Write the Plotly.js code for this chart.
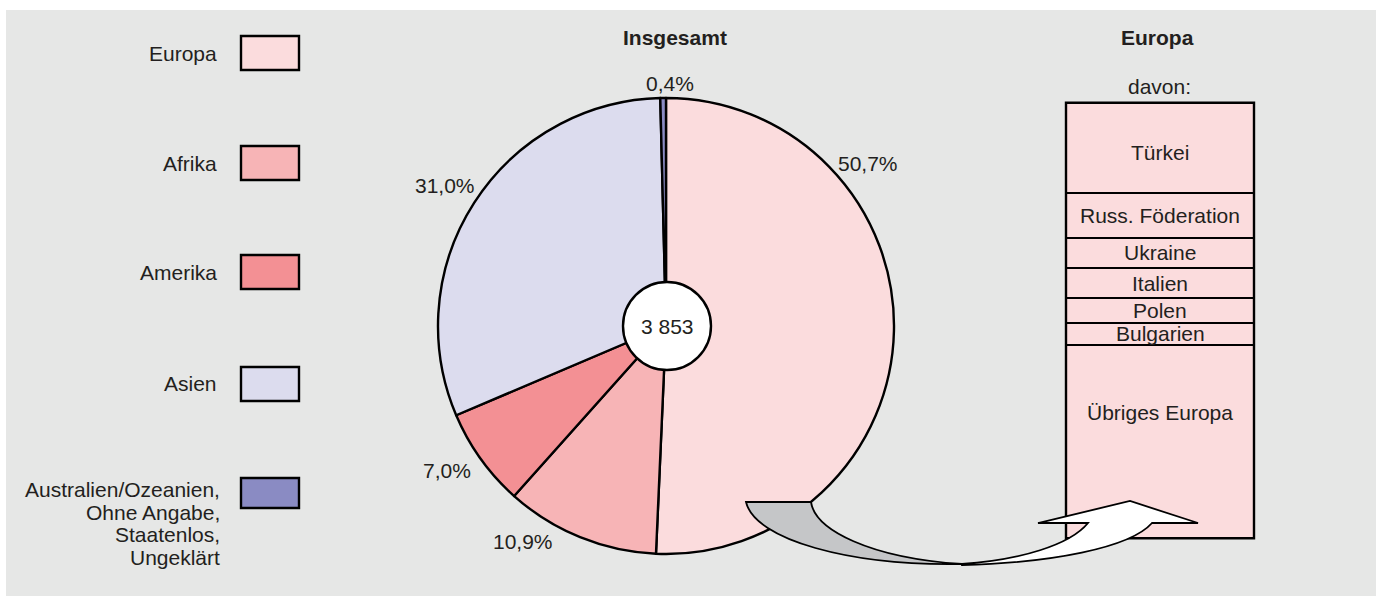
<!DOCTYPE html>
<html>
<head>
<meta charset="utf-8">
<script src="https://cdn.plot.ly/plotly-3.0.1.min.js"></script>
<style>
  html, body { margin: 0; padding: 0; background: #ffffff; }
  #chart { width: 1376px; height: 596px; }
</style>
</head>
<body>
<div id="chart"></div>
<script>
// ---------- DATA ----------
const regions = ['Europa', 'Afrika', 'Amerika', 'Asien', 'Australien/Ozeanien, Ohne Angabe, Staatenlos, Ungeklärt'];
const regionShares = [50.7, 10.9, 7.0, 31.0, 0.4];
const legendLabels = [
  ['Europa'],
  ['Afrika'],
  ['Amerika'],
  ['Asien'],
  ['Australien/Ozeanien,', 'Ohne Angabe,', 'Staatenlos,', 'Ungeklärt']
];
const totalCount = 3853;
const europeCountries = ['Türkei', 'Russ. Föderation', 'Ukraine', 'Italien', 'Polen', 'Bulgarien', 'Übriges Europa'];
const europeShares = [20.8, 10.2, 6.9, 7.0, 5.6, 5.1, 44.4];
const pieTitle = 'Insgesamt';
const barTitle = 'Europa';
const barSubtitle = 'davon:';

// ---------- STYLE ----------
const W = 1376, H = 596;
const FONT = 'Liberation Sans, Arial, Helvetica, sans-serif';
const TXT = '#231f20';
const FS = 21;
const regionColors = ['#fbdcdd', '#f7b4b6', '#f39094', '#dcdcee', '#8a8bc3'];
const barColor = '#fbdcdd';
const bgGray = '#e6e7e6';

const X = x => x / W;
const Y = y => 1 - y / H;
const fmtPct = v => v.toFixed(1).replace('.', ',') + '%';
const fmtInt = n => String(n).replace(/\B(?=(\d{3})+(?!\d))/g, ' ');

// pie geometry (pixels)
const pieCx = 666, pieCy = 326, pieR = 228;
// bar panel geometry (pixels)
const barBox = { l: 1066, r: 1254, t: 102.7, b: 538.3 };

const traces = [];

traces.push({
  type: 'pie',
  values: regionShares,
  labels: regions,
  sort: false,
  direction: 'clockwise',
  rotation: 0,
  textinfo: 'none',
  hoverinfo: 'label+percent',
  showlegend: false,
  marker: { colors: regionColors, line: { color: '#000000', width: 2.4 } },
  domain: { x: [X(pieCx - pieR), X(pieCx + pieR)], y: [Y(pieCy + pieR), Y(pieCy - pieR)] }
});

europeCountries.forEach((c, i) => {
  traces.push({
    type: 'bar',
    x: ['Europa'],
    y: [europeShares[i]],
    width: [1],
    name: c,
    xaxis: 'x',
    yaxis: 'y',
    cliponaxis: false,
    showlegend: false,
    hoverinfo: 'name',
    marker: { color: barColor, line: { color: '#000000', width: 2 } }
  });
});

const annotations = [];
const shapes = [];

// gray background panel
shapes.push({
  type: 'rect', xref: 'paper', yref: 'paper', layer: 'below',
  x0: X(6), x1: 1, y0: 0, y1: Y(10),
  fillcolor: bgGray, line: { width: 0 }
});

// outline around the whole stacked bar (same box as the bar axes domain)
shapes.push({
  type: 'rect', xref: 'paper', yref: 'paper', layer: 'above',
  x0: X(barBox.l), x1: X(barBox.r), y0: Y(barBox.b), y1: Y(barBox.t),
  fillcolor: 'rgba(0,0,0,0)', line: { color: '#000000', width: 2.4 }
});

// titles
annotations.push({ xref: 'paper', yref: 'paper', x: X(675), y: Y(38), text: '<b>' + pieTitle + '</b>', showarrow: false, xanchor: 'center', yanchor: 'middle', font: { family: FONT, size: FS, color: TXT } });
annotations.push({ xref: 'paper', yref: 'paper', x: X(1157), y: Y(38), text: '<b>' + barTitle + '</b>', showarrow: false, xanchor: 'center', yanchor: 'middle', font: { family: FONT, size: FS, color: TXT } });
annotations.push({ xref: 'paper', yref: 'paper', x: X(1159), y: Y(87), text: barSubtitle, showarrow: false, xanchor: 'center', yanchor: 'middle', font: { family: FONT, size: FS, color: TXT } });

// legend
const legendBoxY = [[36, 70], [146, 180], [255, 289], [367, 401], [478, 508]];
const legendTextY = [[53], [163], [272], [383], [489, 512, 534, 557]];
const legendTextX = [219, 219, 219, 219, 222];
legendLabels.forEach((lines, i) => {
  shapes.push({
    type: 'rect', xref: 'paper', yref: 'paper', layer: 'above',
    x0: X(241), x1: X(299), y0: Y(legendBoxY[i][1]), y1: Y(legendBoxY[i][0]),
    fillcolor: regionColors[i], line: { color: '#000000', width: 2.4 }
  });
  lines.forEach((t, j) => {
    annotations.push({ xref: 'paper', yref: 'paper', x: X(legendTextX[i]), y: Y(legendTextY[i][j]), text: t, showarrow: false, xanchor: 'right', yanchor: 'middle', font: { family: FONT, size: FS, color: TXT } });
  });
});

// pie percentage labels
const pctPos = [[868, 163], [523, 541], [447, 470], [445, 185], [670, 83]];
regionShares.forEach((v, i) => {
  annotations.push({ xref: 'paper', yref: 'paper', x: X(pctPos[i][0]), y: Y(pctPos[i][1]), text: fmtPct(v), showarrow: false, xanchor: 'center', yanchor: 'middle', font: { family: FONT, size: FS, color: TXT } });
});

// centre circle with total
const cc = { x: 667, y: 326, r: 44 };
shapes.push({
  type: 'circle', xref: 'paper', yref: 'paper', layer: 'above',
  x0: X(cc.x - cc.r), x1: X(cc.x + cc.r), y0: Y(cc.y + cc.r), y1: Y(cc.y - cc.r),
  fillcolor: '#ffffff', line: { color: '#000000', width: 2.4 }
});
annotations.push({ xref: 'paper', yref: 'paper', x: X(cc.x), y: Y(cc.y), text: fmtInt(totalCount), showarrow: false, xanchor: 'center', yanchor: 'middle', font: { family: FONT, size: FS, color: TXT } });

// stacked bar labels
let cum = 0;
const labelShift = [-4, 0, 0, 0, 0, 0, 29];
europeCountries.forEach((c, i) => {
  const mid = cum + europeShares[i] / 2;
  cum += europeShares[i];
  annotations.push({ xref: 'x', yref: 'y', x: 0, y: mid, yshift: labelShift[i], text: c, showarrow: false, xanchor: 'center', yanchor: 'middle', font: { family: FONT, size: FS, color: TXT } });
});

// curved arrow (decoration), pixel path converted to paper coordinates
function pathFrom(cmds) {
  return cmds.map(c => c[0] + ' ' + c.slice(1).map((v, k) => (k % 2 === 0 ? X(v) : Y(v)).toFixed(5)).join(',')).join(' ') + ' Z';
}
const grayTail = pathFrom([
  ['M', 746, 502],
  ['L', 811, 502],
  ['C', 815, 530, 870, 558, 962, 564],
  ['C', 850, 566, 755, 540, 746, 502]
]);
const whiteHead = pathFrom([
  ['M', 962, 564],
  ['C', 1020, 560, 1070, 545, 1088, 523],
  ['L', 1038, 523],
  ['L', 1130, 501],
  ['L', 1198, 523],
  ['L', 1152, 523],
  ['C', 1130, 548, 1050, 563, 962, 565]
]);
shapes.push({ type: 'path', xref: 'paper', yref: 'paper', layer: 'above', path: grayTail, fillcolor: '#c5c6c8', line: { color: '#000000', width: 1.8 } });
shapes.push({ type: 'path', xref: 'paper', yref: 'paper', layer: 'above', path: whiteHead, fillcolor: '#ffffff', line: { color: '#000000', width: 1.8 } });

const layout = {
  width: W, height: H,
  margin: { l: 0, r: 0, t: 0, b: 0, pad: 0 },
  paper_bgcolor: '#ffffff',
  plot_bgcolor: 'rgba(0,0,0,0)',
  showlegend: false,
  barmode: 'stack',
  bargap: 0,
  font: { family: FONT, size: FS, color: TXT },
  xaxis: { domain: [X(barBox.l), X(barBox.r)], range: [-0.5, 0.5], visible: false, fixedrange: true, type: 'category' },
  yaxis: { domain: [Y(barBox.b), Y(barBox.t)], range: [100, 0], visible: false, fixedrange: true },
  shapes: shapes,
  annotations: annotations
};

Plotly.newPlot('chart', traces, layout, { displayModeBar: false, staticPlot: true });
</script>
</body>
</html>
